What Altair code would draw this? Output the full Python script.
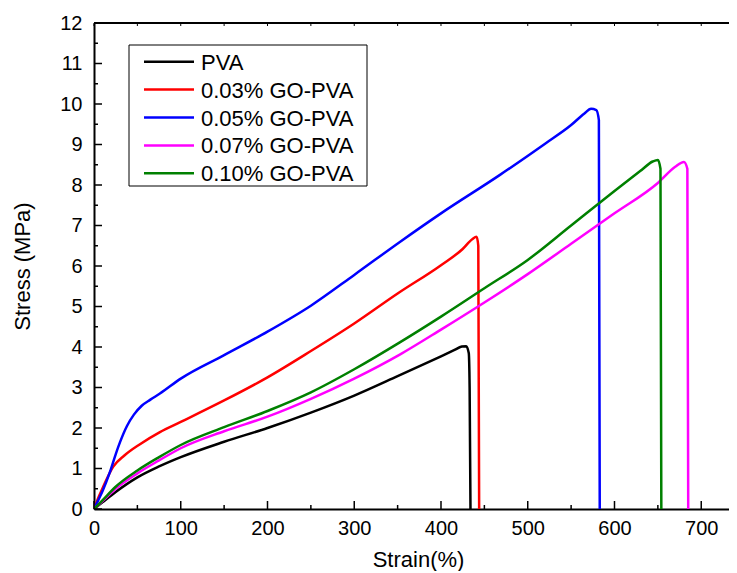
import altair as alt
import pandas as pd

FONT = "Liberation Sans"

series_names = ["PVA", "0.03% GO-PVA", "0.05% GO-PVA", "0.07% GO-PVA", "0.10% GO-PVA"]
series_colors = ["#000000", "#FF0000", "#0000FF", "#FF00FF", "#008000"]

pva_strain = [0, 10, 25, 50, 75, 100, 150, 200, 250, 300, 350, 400, 415, 424, 429, 432, 433, 434]
pva_stress = [0, 0.17, 0.42, 0.78, 1.05, 1.28, 1.66, 2.0, 2.38, 2.8, 3.28, 3.77, 3.92, 4.01, 4.02, 3.85, 3.0, 0]

go03_strain = [0, 5, 10, 22, 35, 53, 76, 100, 150, 200, 250, 300, 350, 400, 425, 436, 441, 443, 444]
go03_stress = [0, 0.28, 0.52, 1.04, 1.32, 1.6, 1.9, 2.15, 2.68, 3.25, 3.9, 4.58, 5.32, 6.02, 6.42, 6.66, 6.72, 6.5, 0]

go05_strain = [0, 5, 10, 18, 25, 30, 38, 46, 55, 65, 76, 100, 150, 200, 250, 300, 353, 400, 468, 520, 550, 565, 573, 579, 582, 583]
go05_stress = [0, 0.22, 0.45, 0.89, 1.35, 1.65, 2.05, 2.33, 2.55, 2.7, 2.85, 3.22, 3.8, 4.38, 5.02, 5.78, 6.6, 7.3, 8.25, 9.02, 9.48, 9.76, 9.88, 9.85, 9.6, 0]

go07_strain = [0, 10, 25, 50, 75, 100, 150, 200, 250, 300, 353, 400, 450, 500, 550, 600, 650, 670, 680, 684, 685]
go07_stress = [0, 0.2, 0.5, 0.88, 1.2, 1.5, 1.92, 2.28, 2.72, 3.22, 3.82, 4.43, 5.1, 5.8, 6.55, 7.3, 8.05, 8.45, 8.57, 8.4, 0]

go10_strain = [0, 10, 25, 50, 75, 100, 150, 200, 250, 300, 353, 400, 450, 500, 550, 600, 630, 644, 650, 653, 654]
go10_stress = [0, 0.22, 0.55, 0.95, 1.28, 1.58, 2.02, 2.42, 2.88, 3.45, 4.12, 4.75, 5.45, 6.15, 7.0, 7.85, 8.35, 8.58, 8.62, 8.4, 0]

all_strain = [pva_strain, go03_strain, go05_strain, go07_strain, go10_strain]
all_stress = [pva_stress, go03_stress, go05_stress, go07_stress, go10_stress]

x_major = [0, 100, 200, 300, 400, 500, 600, 700]
x_minor = [50, 150, 250, 350, 450, 550, 650]
y_major = list(range(0, 13))
y_minor = [0.5 + i for i in range(12)]

rows = []
for name, xs, ys in zip(series_names, all_strain, all_stress):
    for i, (a, b) in enumerate(zip(xs, ys)):
        rows.append({"series": name, "i": i, "strain": a, "stress": b})
df = pd.DataFrame(rows)

W, H = 635, 486
X_DOMAIN = [0, 732]
Y_DOMAIN = [0, 12]

xscale = alt.Scale(domain=X_DOMAIN, nice=False, zero=False)
yscale = alt.Scale(domain=Y_DOMAIN, nice=False, zero=False)
cscale = alt.Scale(domain=series_names, range=series_colors)

lines = alt.Chart(df).mark_line(strokeWidth=2.5, clip=True, interpolate="monotone").encode(
    x=alt.X("strain:Q", scale=xscale, title="Strain(%)",
            axis=alt.Axis(values=x_major, ticks=False, grid=False, domainColor="#000000",
                          domainWidth=2, labelFontSize=20, labelFont=FONT, labelColor="#000000",
                          labelPadding=9, labelFlush=False, titleFontSize=22, titleFont=FONT,
                          titleFontWeight="normal", titleColor="#000000", titleX=324, titleY=50,
                          titleBaseline="middle")),
    y=alt.Y("stress:Q", scale=yscale, title="Stress (MPa)",
            axis=alt.Axis(values=y_major, ticks=False, grid=False, domainColor="#000000",
                          domainWidth=2, labelFontSize=20, labelFont=FONT, labelColor="#000000",
                          labelPadding=12, labelFlush=False, titleFontSize=22, titleFont=FONT,
                          titleFontWeight="normal", titleColor="#000000", titleX=-72, titleY=H / 2,
                          titleBaseline="middle", titleAngle=-90)),
    color=alt.Color("series:N", scale=cscale, legend=None, sort=series_names),
    order=alt.Order("i:Q"),
)

xmaj = alt.Chart(pd.DataFrame({"v": x_major})).mark_rule(color="#000000", strokeWidth=1.5).encode(
    x=alt.X("v:Q", scale=xscale, axis=None), y=alt.value(H), y2=alt.value(H - 8))
xmin = alt.Chart(pd.DataFrame({"v": x_minor})).mark_rule(color="#000000", strokeWidth=1.5).encode(
    x=alt.X("v:Q", scale=xscale, axis=None), y=alt.value(H), y2=alt.value(H - 4))
ymaj = alt.Chart(pd.DataFrame({"v": y_major})).mark_rule(color="#000000", strokeWidth=1.5).encode(
    y=alt.Y("v:Q", scale=yscale, axis=None), x=alt.value(0), x2=alt.value(8))
ymin = alt.Chart(pd.DataFrame({"v": y_minor})).mark_rule(color="#000000", strokeWidth=1.5).encode(
    y=alt.Y("v:Q", scale=yscale, axis=None), x=alt.value(0), x2=alt.value(4))
topt = alt.Chart(pd.DataFrame({"v": x_major + x_minor})).mark_rule(color="#000000", strokeWidth=1).encode(
    x=alt.X("v:Q", scale=xscale, axis=None), y=alt.value(0), y2=alt.value(3))
topline = alt.Chart(pd.DataFrame({"a": [0]})).mark_rule(color="#000000", strokeWidth=2).encode(
    x=alt.value(0), x2=alt.value(W), y=alt.value(0))

# legend
leg_df = pd.DataFrame({"series": series_names, "row": list(range(len(series_names)))})
box = alt.Chart(pd.DataFrame({"a": [0]})).mark_rect(fill="white", stroke="#000000", strokeWidth=1).encode(
    x=alt.value(35), x2=alt.value(273), y=alt.value(22), y2=alt.value(163))
leg_lines = alt.Chart(leg_df).transform_calculate(ypx="38.7 + datum.row * 27.9").mark_rule(strokeWidth=2.5).encode(
    x=alt.value(50), x2=alt.value(100), y=alt.Y("ypx:Q", scale=None, axis=None),
    color=alt.Color("series:N", scale=cscale, legend=None))
leg_text = alt.Chart(leg_df).transform_calculate(ypx="38.7 + datum.row * 27.9").mark_text(
    align="left", baseline="middle", fontSize=22, font=FONT, color="#000000", dy=1).encode(
    x=alt.value(107), y=alt.Y("ypx:Q", scale=None, axis=None), text="series:N")

chart = alt.layer(lines, xmaj, xmin, ymaj, ymin, topt, topline, box, leg_lines, leg_text).resolve_axis(
    x="independent", y="independent"
).properties(
    width=W, height=H,
    autosize=alt.AutoSizeParams(type="none"),
    padding={"left": 86, "top": 15, "right": 0, "bottom": 62},
).configure_view(stroke=None).configure(background="white")

chart.save("out.html", embed_options={"renderer": "svg", "actions": False})
